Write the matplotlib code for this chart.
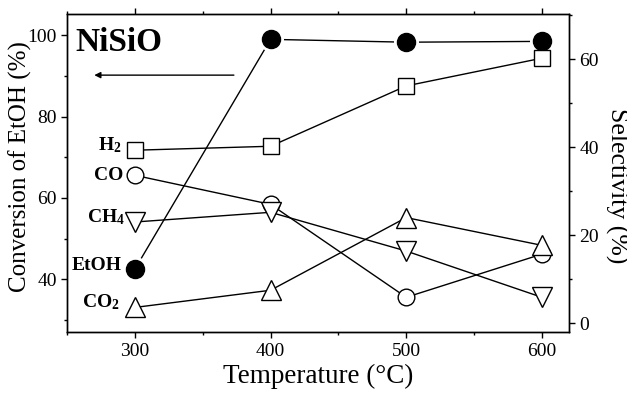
import matplotlib
matplotlib.use('Agg')
from matplotlib import pyplot as plt
from matplotlib.ticker import MultipleLocator

plt.rcParams['font.family'] = ['Liberation Serif', 'DejaVu Serif']
plt.rcParams['mathtext.fontset'] = 'custom'
plt.rcParams['mathtext.rm'] = 'Liberation Serif:bold'
plt.rcParams['mathtext.it'] = 'Liberation Serif:bold'
plt.rcParams['mathtext.bf'] = 'Liberation Serif:bold'

temps = [300, 400, 500, 600]
# conversion of ethanol (left axis)
etoh = [42.5, 99.0, 98.3, 98.5]
# selectivity (right axis)
h2 = [39.3, 40.2, 53.9, 60.2]
co = [33.6, 27.0, 5.9, 15.7]
ch4 = [23.0, 25.2, 16.4, 5.9]
co2 = [3.6, 7.5, 24.0, 17.7]

fig = plt.figure(figsize=(6.27, 3.93), dpi=100)
ax = fig.add_axes([0.107, 0.155, 0.8005, 0.809])
ax2 = ax.twinx()

# EtOH: line, white halo to make the gap, then the dot
ax.plot(temps, etoh, color='black', lw=1, zorder=2)
ax.plot(temps, etoh, ls='none', marker='o', ms=17, mfc='white', mec='white', zorder=3)
ax.plot(temps, etoh, ls='none', marker='o', ms=13, mfc='black', mec='black', zorder=4)

kw = dict(color='black', lw=1, mfc='white', mec='black', mew=1)
ax2.plot(temps, h2, marker='s', ms=11, **kw)
ax2.plot(temps, co, marker='o', ms=12, **kw)
ax2.plot(temps, ch4, marker='v', ms=14, **kw)
ax2.plot(temps, co2, marker='^', ms=14, **kw)

ax.set_xlim(250, 620)
ax.set_ylim(27, 105.2)
ax2.set_ylim(-2, 70.2)

ax.xaxis.set_major_locator(MultipleLocator(100))
ax.xaxis.set_minor_locator(MultipleLocator(50))
ax.yaxis.set_major_locator(MultipleLocator(20))
ax.yaxis.set_minor_locator(MultipleLocator(10))
ax2.yaxis.set_major_locator(MultipleLocator(20))
ax2.yaxis.set_minor_locator(MultipleLocator(10))

ax.tick_params(axis='both', which='major', direction='out', length=4, width=1, labelsize=14)
ax.tick_params(axis='both', which='minor', direction='out', length=2.5, width=1)
ax.tick_params(axis='x', top=True, which='both')
ax2.tick_params(axis='y', which='major', direction='out', length=4, width=1, labelsize=14)
ax2.tick_params(axis='y', which='minor', direction='out', length=2.5, width=1)

for a in (ax, ax2):
    for s in a.spines.values():
        s.set_linewidth(1)

ax.set_xlabel('Temperature (°C)', fontsize=19.5, labelpad=3)
ax.set_ylabel('Conversion of EtOH (%)', fontsize=18, va='center')
ax.yaxis.set_label_coords(-0.094, 0.52)
ax2.set_ylabel('Selectivity (%)', fontsize=18.5, rotation=-90, va='center')
ax2.yaxis.set_label_coords(1.094, 0.459)

ax.text(0.016, 0.885, 'NiSiO', transform=ax.transAxes, fontsize=24,
        fontweight='bold', ha='left', va='baseline')
ax.annotate('', xy=(268, 90.2), xytext=(375, 90.2),
            arrowprops=dict(arrowstyle='-|>', color='black', lw=1,
                            mutation_scale=9))

lab = dict(fontsize=14, fontweight='bold', ha='right', va='center')
ax2.text(290, h2[0] + 1.2, r'H$_2$', **lab)
ax2.text(291.5, co[0], 'CO', **lab)
ax2.text(292.5, ch4[0] + 1.2, r'CH$_4$', **lab)
ax2.text(289, co2[0] + 1.2, r'CO$_2$', **lab)
ax.text(290.5, etoh[0] + 1.0, 'EtOH', **lab)

fig.savefig('out.png', dpi=100)
